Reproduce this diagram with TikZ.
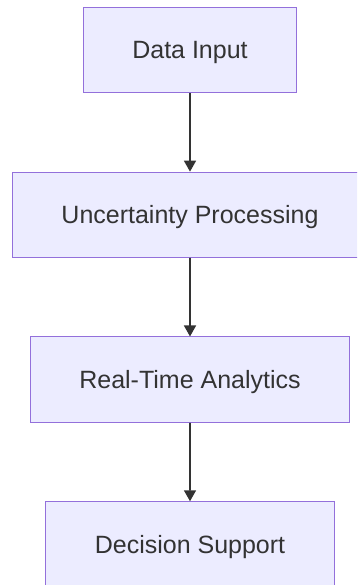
\documentclass[tikz,border=0pt]{standalone}
\usepackage{fontspec}
\setmainfont{Liberation Sans}
\usepackage{tikz}
\usetikzlibrary{arrows.meta}
\definecolor{boxfill}{HTML}{ECECFF}
\definecolor{boxline}{HTML}{9370DB}
\definecolor{inkgray}{HTML}{333333}

\begin{document}
\begin{tikzpicture}[x=1pt,y=1pt,level distance=164.8pt,
  box/.style={rectangle,draw=boxline,fill=boxfill,line width=1pt,
    minimum height=85.3pt,inner xsep=49pt,text=inkgray,
    text height=17.5pt,text depth=0pt,
    font=\fontsize{25}{30}\selectfont},
  edge from parent/.style={draw=inkgray,line width=1.6pt,
    -{Triangle[length=11pt,width=12pt]}}]
  \useasboundingbox (0,0) rectangle (357,-585);
  \clip (0,0) rectangle (357,-585);
  \node [box] (input) at (190,-50) {Data Input}
    child {
      node [box] (proc) {Uncertainty Processing}
        child {
          node [box] (rta) {Real-Time Analytics}
            child {node [box] (dec) {Decision Support}}
        }
    };
\end{tikzpicture}
\end{document}
